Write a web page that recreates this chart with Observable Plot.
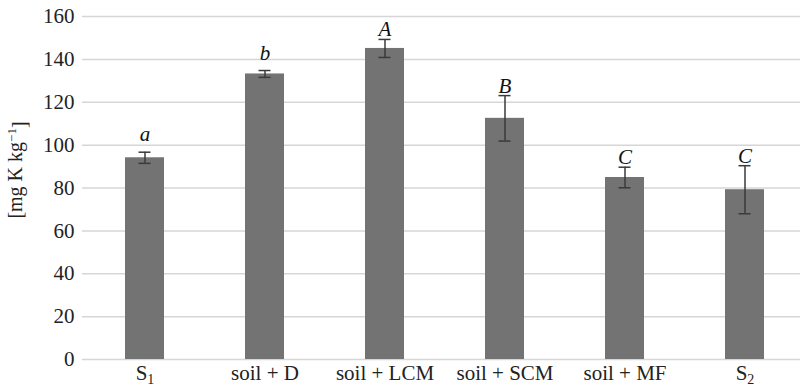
<!DOCTYPE html>
<html><head><meta charset="utf-8">
<script src="https://cdn.jsdelivr.net/npm/d3@7"></script>
<script src="https://cdn.jsdelivr.net/npm/@observablehq/plot@0.6"></script>
<style>
body{margin:0;background:#fff;overflow:hidden}
svg{display:block;overflow:visible}
</style>
</head><body><div id="chart"></div>
<script>
const categories = ["S1", "soil + D", "soil + LCM", "soil + SCM", "soil + MF", "S2"];
const means = [94.1, 133.2, 145.1, 112.5, 84.9, 79.2];
const errors = [2.6, 1.6, 4.2, 10.6, 4.8, 11.2];
const letters = ["a", "b", "A", "B", "C", "C"];
const yTicks = [0, 20, 40, 60, 80, 100, 120, 140, 160];
const yTitle = "[mg K kg";
const yTitleSup = "−1";

const data = categories.map((c, i) => ({c, v: means[i], e: errors[i], l: letters[i]}));
const lower = data.filter(d => d.l === d.l.toLowerCase());
const upper = data.filter(d => d.l !== d.l.toLowerCase());

const errColor = "#3a3a3a";
const font = "Liberation Serif";

const plot = Plot.plot({
  width: 800, height: 388,
  marginLeft: 82, marginRight: 0, marginTop: 16, marginBottom: 29,
  style: {fontFamily: font, fontSize: "21px", color: "#222", background: "#fff", overflow: "visible"},
  x: {domain: categories, range: [82.5, 806], paddingInner: 0.677, paddingOuter: 0.3385, label: null},
  y: {domain: [0, 160], label: null},
  marks: [
    Plot.ruleY(yTicks, {stroke: "#d6d6d6", strokeWidth: 1.5}),
    Plot.barY(data, {x: "c", y: "v", fill: "#737373"}),
    Plot.ruleX(data, {x: "c", y1: d => d.v - d.e, y2: d => d.v + d.e, stroke: errColor, strokeWidth: 1.5}),
    Plot.tickY(data, {x: "c", y: d => d.v + d.e, stroke: errColor, strokeWidth: 1.5, insetLeft: 13.5, insetRight: 13.5}),
    Plot.tickY(data, {x: "c", y: d => d.v - d.e, stroke: errColor, strokeWidth: 1.5, insetLeft: 13.5, insetRight: 13.5}),
    Plot.text(lower, {x: "c", y: d => d.v + d.e, text: "l", dy: -11, lineAnchor: "bottom", fontStyle: "italic", fontSize: 21, fill: "#111"}),
    Plot.text(upper, {x: "c", y: d => d.v + d.e, text: "l", dy: -3, lineAnchor: "bottom", fontStyle: "italic", fontSize: 21, fill: "#111"}),
    Plot.axisX({tickSize: 0, tickPadding: 6, fontSize: 21, label: null}),
    Plot.axisY({ticks: yTicks, tickSize: 0, tickPadding: 8, fontSize: 21, label: null})
  ]
});

const svg = d3.select(plot);
svg.selectAll('[aria-label="x-axis tick label"] text').each(function() {
  const t = d3.select(this);
  const m = /^S(\d)$/.exec(t.text());
  if (m) {
    t.text("S");
    t.append("tspan").attr("dy", "0.25em").attr("font-size", "14px").text(m[1]);
  }
});
const title = svg.append("text")
  .attr("transform", "translate(22,170) rotate(-90)")
  .attr("text-anchor", "middle")
  .attr("font-size", 20)
  .attr("fill", "#222");
title.append("tspan").text(yTitle);
title.append("tspan").attr("dy", "-0.5em").attr("font-size", "13px").text(yTitleSup);
title.append("tspan").attr("dy", "0.5em").text("]");
svg.selectAll("text").attr("font-family", font).style("font-family", font);

document.getElementById("chart").append(plot);
</script>
</body></html>
